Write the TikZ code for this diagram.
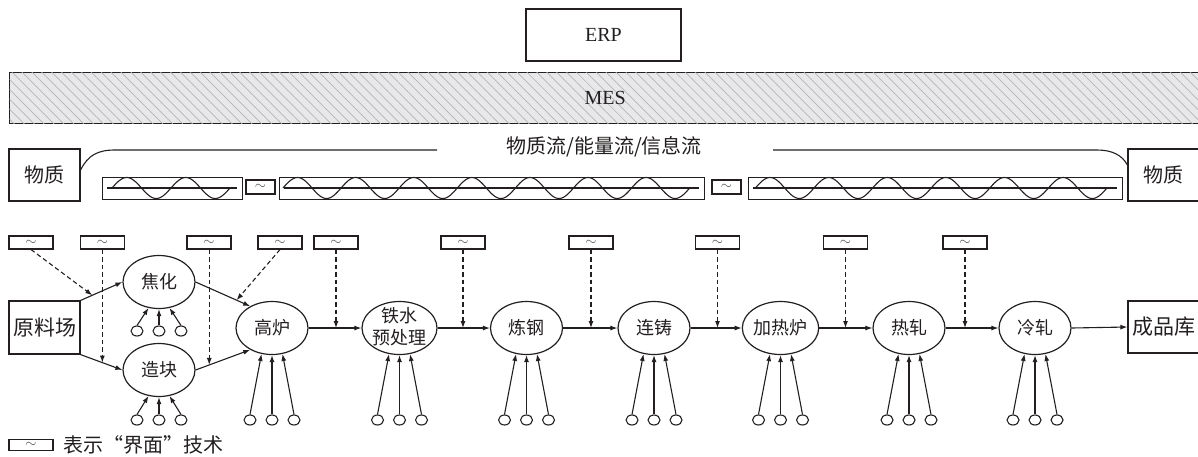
\documentclass[tikz,border=0pt]{standalone}
\usepackage{fontspec}
\setmainfont{Liberation Serif}
\newfontfamily\cjk{Noto Sans CJK SC}
\usetikzlibrary{arrows.meta,shapes.geometric,patterns.meta,calc}
\definecolor{ink}{HTML}{231F20}
\definecolor{mesfill}{HTML}{E8E8EA}
\definecolor{hatch}{HTML}{B5B5B8}
\newcommand\feeds[2]{%
  \node[src] (#1a) at ($(#1.center)+(-22,#2)$) {};
  \node[src] (#1b) at ($(#1.center)+(0,#2)$) {};
  \node[src] (#1c) at ($(#1.center)+(22,#2)$) {};
  \draw[arr] (#1a.north) -- (#1.248);
  \draw[arr] (#1b.north) -- (#1.south);
  \draw[arr] (#1c.north) -- (#1.292);
}
\begin{document}
\begin{tikzpicture}[x=1pt,y=-1pt,
  every node/.style={text=ink},
  line/.style={draw=ink,line width=1.1pt},
  box/.style={draw=ink,line width=1.2pt,rectangle,inner sep=0pt,font=\cjk\fontsize{20}{20}\selectfont},
  proc/.style={draw=ink,line width=1.2pt,ellipse,minimum width=72pt,minimum height=53pt,inner sep=0pt,font=\cjk\fontsize{18}{18}\selectfont},
  iface/.style={draw=ink,line width=1.1pt,rectangle,minimum width=44pt,minimum height=13pt,inner sep=0pt,font=\fontsize{14}{14}\selectfont,text=ink!80},
  src/.style={draw=ink,line width=1.1pt,ellipse,minimum width=12pt,minimum height=10pt,inner sep=0pt},
  arr/.style={draw=ink,line width=1.1pt,-{Latex[length=7pt,width=5pt]}},
  darr/.style={arr,dash pattern=on 4.5pt off 3pt},
]
\useasboundingbox (0,0) rectangle (1198,456);

% ERP / MES
\node[box,minimum width=155pt,minimum height=52pt,font=\fontsize{20}{20}\selectfont] (erp) at (603.5,35) {ERP};
\node[draw=ink,line width=1.3pt,fill=mesfill,
      postaction={pattern={Lines[angle=-45,distance=7pt,line width=0.7pt]},pattern color=hatch},
      minimum width=1191pt,minimum height=51pt,inner sep=0pt,anchor=north west,
      font=\fontsize{20}{20}\selectfont] (mes) at (9,72) {MES};

% flow band
\node[box,minimum width=71pt,minimum height=52pt] (wl) at (44.5,175) {物质};
\node[box,minimum width=71pt,minimum height=52pt] (wr) at (1163.5,175) {物质};
\node[font=\cjk\fontsize{20}{20}\selectfont] (flow) at (604,147) {物质流/能量流/信息流};
\draw[line] ($(wl.east)+(0,-5)$) .. controls (88,155) and (98,150) .. (115,150) -- (437,150);
\draw[line] (773,150) -- (1097,150) .. controls (1112,150) and (1122,155) .. ($(wr.west)+(0,-10)$);

\node[draw=ink,line width=1.2pt,minimum width=140pt,minimum height=22pt,inner sep=0pt,anchor=north west] (wb1) at (102,177) {};
\node[draw=ink,line width=1.2pt,minimum width=425pt,minimum height=22pt,inner sep=0pt,anchor=north west] (wb2) at (279,177) {};
\node[draw=ink,line width=1.2pt,minimum width=374pt,minimum height=22pt,inner sep=0pt,anchor=north west] (wb3) at (748,177) {};
\node[draw=ink,line width=1.1pt,minimum width=29pt,minimum height=14pt,inner sep=0pt,font=\fontsize{14}{14}\selectfont,text=ink!80] (s1) at (260.5,187) {$\sim$};
\node[draw=ink,line width=1.1pt,minimum width=29pt,minimum height=14pt,inner sep=0pt,font=\fontsize{14}{14}\selectfont,text=ink!80] (s2) at (726.5,187) {$\sim$};
\draw[line] (107,188) -- (237,188);
\draw[line] (284,188) -- (699,188);
\draw[line] (753,188) -- (1117,188);
\draw[line] plot[domain=0:2,samples=100] ({112+59*\x},{188-10.5*sin(360*\x)});
\draw[line] plot[domain=0:7,samples=300] ({283+58.1*\x},{188-10.5*sin(360*\x)});
\draw[line] plot[domain=0:6,samples=260] ({755.4+58.6*\x},{188-10.5*sin(360*\x)});

% process chain
\node[box,minimum width=71pt,minimum height=53pt,font=\cjk\fontsize{21}{21}\selectfont] (yl) at (44.5,327.5) {原料场};
\node[proc] (jh) at (159,282) {焦化};
\node[proc] (zk) at (159,370) {造块};
\node[proc] (gl) at (272,328) {高炉};
\node[proc,minimum width=75pt] (ts) at (399.5,328) {};
\node[align=center,font=\cjk\fontsize{18}{22}\selectfont] (tst) at (399.5,327) {铁水\\预处理};
\node[proc] (lg) at (526.5,328) {炼钢};
\node[proc] (lz) at (654,328) {连铸};
\node[proc] (jr) at (780.5,328) {加热炉};
\node[proc] (rz) at (909,328) {热轧};
\node[proc] (lzh) at (1035,328) {冷轧};
\node[box,minimum width=71pt,minimum height=52pt,font=\cjk\fontsize{21}{21}\selectfont] (cp) at (1163.5,327) {成品库};

\draw[arr] (yl.north east) -- (jh.west);
\draw[arr] (yl.south east) -- (zk.west);
\draw[arr] (jh.east) -- (gl.135);
\draw[arr] (zk.east) -- (gl.225);
\draw[arr] (gl.east) -- (ts.west);
\draw[arr] (ts.east) -- (lg.west);
\draw[arr] (lg.east) -- (lz.west);
\draw[arr] (lz.east) -- (jr.west);
\draw[arr] (jr.east) -- (rz.west);
\draw[arr] (rz.east) -- (lzh.west);
\draw[arr] (lzh.east) -- (cp.west);

% interface boxes
\node[iface] (i1) at (31,242.5) {$\sim$};
\node[iface] (i2) at (102.5,242.5) {$\sim$};
\node[iface] (i3) at (209,242.5) {$\sim$};
\node[iface] (i4) at (280,242.5) {$\sim$};
\node[iface] (i5) at (336,242.5) {$\sim$};
\node[iface] (i6) at (463,242.5) {$\sim$};
\node[iface] (i7) at (591,242.5) {$\sim$};
\node[iface] (i8) at (717.5,242.5) {$\sim$};
\node[iface] (i9) at (845.5,242.5) {$\sim$};
\node[iface] (i10) at (965,242.5) {$\sim$};

\path (yl.north east) -- (jh.west) coordinate[pos=0.28] (p1);
\path (yl.south east) -- (zk.west) coordinate[pos=0.52] (p2);
\path (zk.east) -- (gl.225) coordinate[pos=0.25] (p3);
\path (jh.east) -- (gl.135) coordinate[pos=0.75] (p4);
\draw[darr] (i1.south) -- (p1);
\draw[darr] (p2 |- i2.south) -- (p2);
\draw[darr] (p3 |- i3.south) -- (p3);
\draw[darr] (i4.south) -- (p4);
\draw[darr] (i5.south) -- (i5.south |- gl.east);
\draw[darr] (i6.south) -- (i6.south |- gl.east);
\draw[darr] (i7.south) -- (i7.south |- gl.east);
\draw[darr] (i8.south) -- (i8.south |- gl.east);
\draw[darr] (i9.south) -- (i9.south |- gl.east);
\draw[darr] (i10.south) -- (i10.south |- gl.east);

% input sources
\feeds{jh}{49}
\feeds{zk}{50}
\feeds{gl}{92}
\feeds{ts}{92}
\feeds{lg}{92}
\feeds{lz}{92}
\feeds{jr}{92}
\feeds{rz}{92}
\feeds{lzh}{92}

% legend
\node[iface,minimum height=11pt] (leg) at (31,445) {$\sim$};
\node[anchor=west,font=\cjk\fontsize{20}{20}\selectfont] (legt) at ($(leg.east)+(6,0)$) {表示“界面”技术};
\end{tikzpicture}
\end{document}
